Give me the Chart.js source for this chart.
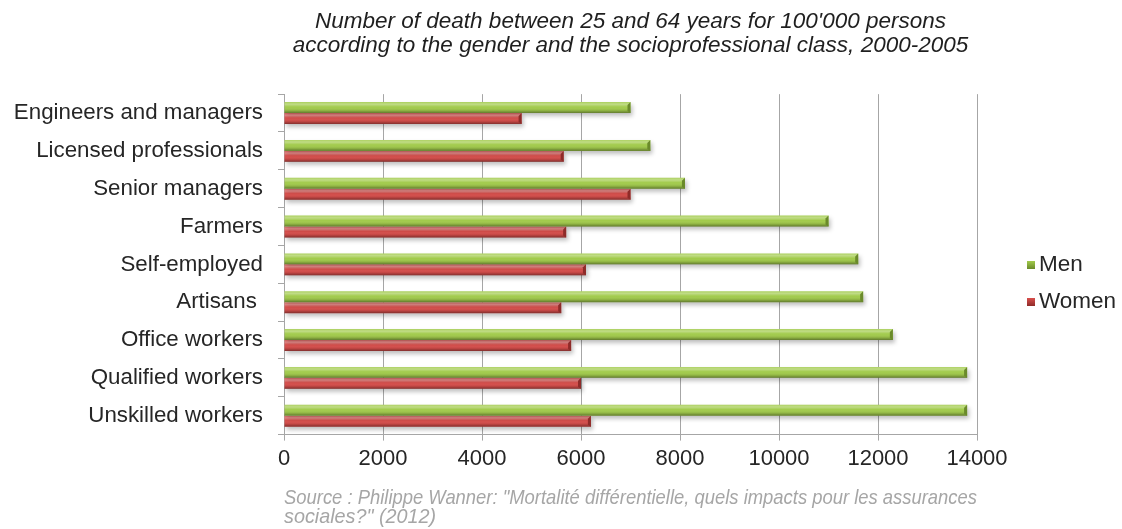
<!DOCTYPE html>
<html>
<head>
<meta charset="utf-8">
<script src="https://cdn.jsdelivr.net/npm/chart.js@4/dist/chart.umd.min.js"></script>
<style>
  html, body { margin: 0; padding: 0; background: #ffffff; }
  #wrap { width: 1122px; height: 529px; }
</style>
</head>
<body>
<div id="wrap"><canvas id="chart" width="1122" height="529"></canvas></div>
<script>
// Socioprofessional classes (top to bottom)
const categories = [
  'Engineers and managers',
  'Licensed professionals',
  'Senior managers',
  'Farmers',
  'Self-employed',
  'Artisans ',
  'Office workers',
  'Qualified workers',
  'Unskilled workers'
];

// Deaths between 25 and 64 years per 100'000 persons
const menValues   = [7000, 7400, 8100, 11000, 11600, 11700, 12300, 13800, 13800];
const womenValues = [4800, 5650, 7000, 5700, 6100, 5600, 5800, 6000, 6200];

const seriesNames = ['Men', 'Women'];
const xTickValues = [0, 2000, 4000, 6000, 8000, 10000, 12000, 14000];

const titleLines = [
  'Number of death between 25 and 64 years for 100\'000 persons',
  'according to the gender and the socioprofessional class, 2000-2005'
];
const sourceLines = [
  'Source : Philippe Wanner: "Mortalité différentielle, quels impacts pour les assurances',
  'sociales?" (2012)'
];

const FONT = "'Liberation Sans', Arial, Helvetica, sans-serif";
const GREEN = '#A2CB4C';
const RED = '#D94F4C';
const GREEN_DARK = '#6A8A2A';
const RED_DARK = '#8E2B29';

// Soft drop shadow under the bars
const barShadow = {
  id: 'barShadow',
  beforeDatasetsDraw(chart) {
    const ctx = chart.ctx;
    ctx.save();
    ctx.shadowColor = 'rgba(0,0,0,0.25)';
    ctx.shadowBlur = 4;
    ctx.shadowOffsetX = 2;
    ctx.shadowOffsetY = 3;
  },
  afterDatasetsDraw(chart) {
    chart.ctx.restore();
  }
};

// Glossy cylinder shading laid over each bar
const barGloss = {
  id: 'barGloss',
  afterDatasetsDraw(chart) {
    const ctx = chart.ctx;
    chart.data.datasets.forEach((ds, di) => {
      const meta = chart.getDatasetMeta(di);
      const dark = di === 0 ? GREEN_DARK : RED_DARK;
      meta.data.forEach(bar => {
        const p = bar.getProps(['x', 'y', 'base', 'height'], true);
        const top = p.y - p.height / 2;
        const bottom = p.y + p.height / 2;
        const left = Math.min(p.base, p.x);
        const right = Math.max(p.base, p.x);
        const g = ctx.createLinearGradient(0, top, 0, bottom);
        g.addColorStop(0, 'rgba(255,255,255,0.12)');
        g.addColorStop(0.2, 'rgba(255,255,255,0.32)');
        g.addColorStop(0.45, 'rgba(255,255,255,0.0)');
        g.addColorStop(0.75, 'rgba(0,0,0,0.10)');
        g.addColorStop(1, 'rgba(0,0,0,0.40)');
        ctx.save();
        ctx.fillStyle = g;
        ctx.fillRect(left, top, right - left, bottom - top);
        // bevelled end cap
        ctx.fillStyle = dark;
        ctx.beginPath();
        ctx.moveTo(right - 3, top + 3);
        ctx.lineTo(right, top);
        ctx.lineTo(right, bottom);
        ctx.lineTo(right - 3, bottom - 2);
        ctx.closePath();
        ctx.fill();
        ctx.restore();
      });
    });
  }
};

// Legend on the right, built from the datasets
const sideLegend = {
  id: 'sideLegend',
  afterDraw(chart) {
    const ctx = chart.ctx;
    ctx.save();
    chart.data.datasets.forEach((ds, i) => {
      const cy = 265 + i * 37;
      const bx = 1027, size = 8;
      const g = ctx.createLinearGradient(0, cy - size / 2, 0, cy + size / 2);
      g.addColorStop(0, ds.backgroundColor);
      g.addColorStop(1, i === 0 ? GREEN_DARK : RED_DARK);
      ctx.fillStyle = g;
      ctx.fillRect(bx, cy - size / 2, size, size);
      ctx.fillStyle = '#262626';
      ctx.font = '22.5px ' + FONT;
      ctx.textBaseline = 'middle';
      ctx.textAlign = 'left';
      ctx.fillText(ds.label, bx + 12, cy);
    });
    ctx.restore();
  }
};

const chart = new Chart(document.getElementById('chart'), {
  type: 'bar',
  data: {
    labels: categories,
    datasets: [
      { label: seriesNames[0], data: menValues, backgroundColor: GREEN },
      { label: seriesNames[1], data: womenValues, backgroundColor: RED }
    ]
  },
  options: {
    indexAxis: 'y',
    responsive: false,
    animation: false,
    devicePixelRatio: 1,
    layout: { padding: { left: 0, right: 145, top: 0, bottom: 0 } },
    datasets: {
      bar: { categoryPercentage: 0.58, barPercentage: 1.0, borderWidth: 0 }
    },
    scales: {
      x: {
        min: 0,
        max: 14000,
        afterBuildTicks(scale) {
          scale.ticks = xTickValues.map(v => ({ value: v }));
        },
        afterFit(scale) { scale.height = 54; },
        grid: {
          color: '#a6a6a6',
          lineWidth: 1,
          drawOnChartArea: true,
          drawTicks: true,
          tickLength: 6
        },
        border: { color: '#a6a6a6', width: 1 },
        ticks: {
          color: '#262626',
          font: { family: FONT, size: 22 },
          padding: 5,
          maxRotation: 0,
          callback: v => String(v)
        }
      },
      y: {
        afterFit(scale) { scale.width = 284; },
        grid: {
          offset: true,
          drawOnChartArea: false,
          drawTicks: true,
          tickLength: 6,
          color: '#a6a6a6'
        },
        border: { color: '#a6a6a6', width: 1 },
        ticks: {
          color: '#262626',
          font: { family: FONT, size: 22.3 },
          padding: 15,
          autoSkip: false
        }
      }
    },
    plugins: {
      legend: { display: false },
      tooltip: { enabled: false },
      title: {
        display: true,
        text: titleLines,
        fullSize: false,
        color: '#1f1f1f',
        font: { family: FONT, size: 22.5, style: 'italic', weight: 'normal', lineHeight: 1.07 },
        padding: { top: 10, bottom: 36 }
      },
      subtitle: {
        display: true,
        position: 'bottom',
        align: 'start',
        fullSize: false,
        text: sourceLines,
        color: '#a6a6a6',
        font: { family: FONT, size: 19.8, style: 'italic', weight: 'normal', lineHeight: 0.97 },
        padding: { top: 0, bottom: 2 }
      }
    }
  },
  plugins: [barShadow, barGloss, sideLegend]
});
</script>
</body>
</html>
